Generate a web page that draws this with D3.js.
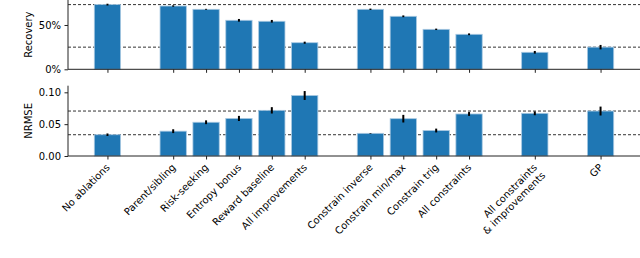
<!DOCTYPE html>
<html>
<head>
<meta charset="utf-8">
<script src="https://cdn.jsdelivr.net/npm/d3@7"></script>
<style>
  body { margin: 0; background: #fff; }
  svg { display: block; font-family: "DejaVu Sans", sans-serif; }
</style>
</head>
<body>
<div id="chart"></div>
<script>
// Ablation results
const labels = [
  ["No ablations"], ["Parent/sibling"], ["Risk-seeking"], ["Entropy bonus"],
  ["Reward baseline"], ["All improvements"], ["Constrain inverse"],
  ["Constrain min/max"], ["Constrain trig"], ["All constraints"],
  ["All constraints", "& improvements"], ["GP"]
];
// slot positions (gaps between groups)
const slots = [0, 2, 3, 4, 5, 6, 8, 9, 10, 11, 13, 15];

const recovery    = [0.73, 0.714, 0.677, 0.553, 0.542, 0.30, 0.677, 0.598, 0.451, 0.395, 0.192, 0.25];
const recoveryErr = [0.010, 0.008, 0.005, 0.015, 0.015, 0.012, 0.008, 0.010, 0.008, 0.010, 0.015, 0.025];
const nrmse       = [0.0334, 0.039, 0.053, 0.059, 0.0717, 0.095, 0.0356, 0.0586, 0.040, 0.066, 0.067, 0.0706];
const nrmseErr    = [0.002, 0.003, 0.003, 0.004, 0.005, 0.007, 0.0005, 0.006, 0.003, 0.003, 0.003, 0.007];

const width = 640;
const height = 258;
const left = 68;
const barColor = "#1f77b4";

const svg = d3.select("#chart")
  .append("svg")
  .attr("width", width)
  .attr("height", height);

const x = d3.scaleLinear()
  .domain([-1.2, 16.2])
  .range([left, width]);
const barW = x(0.8) - x(0);

// draws one panel
function panel(values, errs, domain, range, ticks, fmt, title) {
  const y = d3.scaleLinear().domain(domain).range(range);
  const g = svg.append("g");

  // reference lines at "No ablations" and "GP"
  const refs = [values[0], values[values.length - 1]];
  g.selectAll(".ref")
    .data(refs)
    .enter()
    .append("line")
      .attr("x1", left)
      .attr("x2", width)
      .attr("y1", d => y(d))
      .attr("y2", d => y(d))
      .attr("stroke", "#333")
      .attr("stroke-width", 1)
      .attr("stroke-dasharray", "3,2");

  g.selectAll(".bar")
    .data(values)
    .enter()
    .append("rect")
      .attr("x", (d, i) => x(slots[i]) - barW / 2)
      .attr("y", d => y(d))
      .attr("width", barW)
      .attr("height", d => y(0) - y(d))
      .attr("fill", barColor)
      .attr("stroke", "#a9c9e2")
      .attr("stroke-width", 0.8);

  g.selectAll(".err")
    .data(values)
    .enter()
    .append("line")
      .attr("x1", (d, i) => x(slots[i]))
      .attr("x2", (d, i) => x(slots[i]))
      .attr("y1", (d, i) => y(d - errs[i]))
      .attr("y2", (d, i) => y(d + errs[i]))
      .attr("stroke", "#000")
      .attr("stroke-width", 2);

  const yAxis = g.append("g")
    .attr("transform", `translate(${left},0)`)
    .call(d3.axisLeft(y).tickValues(ticks).tickFormat(fmt).tickSize(3.5).tickPadding(3.5));
  yAxis.select(".domain").attr("d", `M0,${range[1]}V${range[0]}`);

  const xAxis = g.append("g")
    .attr("transform", `translate(0,${range[0]})`)
    .call(d3.axisBottom(x).tickValues(slots).tickFormat("").tickSize(3.5));
  xAxis.select(".domain").attr("d", `M${left},0H${width}`);

  svg.selectAll(".tick text").attr("font-size", 10).attr("fill", "#000").attr("font-family", "DejaVu Sans");
  svg.selectAll(".domain, .tick line").attr("stroke", "#222");

  svg.append("text")
    .attr("transform", `translate(32,${(range[0] + range[1]) / 2}) rotate(-90)`)
    .attr("text-anchor", "middle")
    .attr("font-size", 10)
    .text(title);

  return y;
}

panel(recovery, recoveryErr, [0, 0.782], [69.3, 0], [0, 0.5], d3.format(".0%"), "Recovery");
const yB = panel(nrmse, nrmseErr, [0, 0.1104], [156, 85.7], [0, 0.05, 0.10], d3.format(".2f"), "NRMSE");

// rotated category labels
const lab = svg.append("g")
  .selectAll("text")
  .data(labels)
  .enter()
  .append("text")
    .attr("transform", (d, i) => `translate(${x(slots[i]) + 3},${yB(0) + 12}) rotate(-45)`)
    .attr("text-anchor", "end")
    .attr("font-size", 10);

lab.selectAll("tspan")
  .data(d => d)
  .enter()
  .append("tspan")
    .attr("x", 0)
    .attr("dy", (d, i) => i === 0 ? 0 : "1.15em")
    .text(d => d);
</script>
</body>
</html>
